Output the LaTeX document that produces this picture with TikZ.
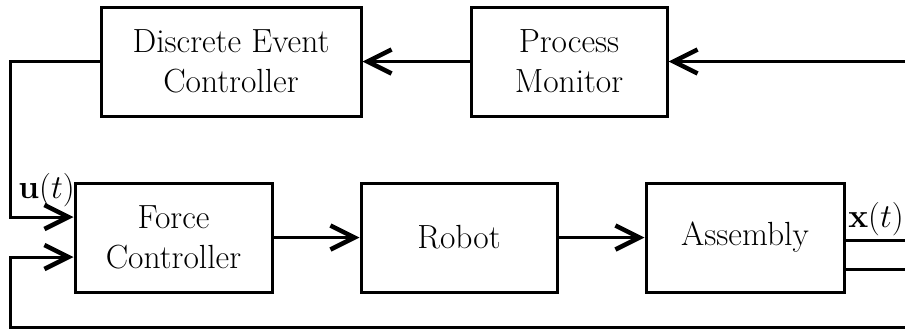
\documentclass[tikz,border=0pt]{standalone}
\usepackage{fix-cm}
\usetikzlibrary{arrows.meta}
\begin{document}
\begin{tikzpicture}[x=1pt,y=-1pt,
  box/.style={draw,line width=3pt,minimum height=109pt,align=center,inner sep=0pt},
  arr/.style={-{Straight Barb[length=24pt,width=24pt,line width=4.5pt]}},
  wire/.style={line width=3pt},
  every node/.append style={font=\fontsize{33.5}{40}\selectfont}]
\useasboundingbox (0,0) rectangle (905,330);
\node[box,minimum width=260pt] (dec) at (231,61.5) {Discrete Event\\Controller};
\node[box,minimum width=196pt] (pm) at (569,61.5) {Process\\Monitor};
\node[box,minimum width=197pt] (fc) at (173.5,237.5) {Force\\Controller};
\node[box,minimum width=196pt] (rob) at (459,237.5) {Robot};
\node[box,minimum width=198pt] (asm) at (745,237.5) {Assembly};
\coordinate (in) at (905,61.5);
\coordinate (ul) at (10,217);
\coordinate (x1) at (905,240);
\coordinate (x2) at (905,269);
\coordinate (b1) at (905,327);
\coordinate (b2) at (10,257);
\draw[wire,arr] (in) -- (pm.east);
\draw[wire,arr] (pm.west) -- (dec.east);
\draw[wire,arr] (dec.west) -| (ul) -- (ul -| fc.west);
\draw[wire,arr] (fc.east) -- (rob.west);
\draw[wire,arr] (rob.east) -- (asm.west);
\draw[wire] (asm.east |- x1) -- (x1);
\draw[wire] (asm.east |- x2) -- (x2);
\draw[wire,arr] (b1) -- (b1 -| b2) -- (b2) -- (b2 -| fc.west);
\node[inner sep=0pt,anchor=east] (ulab) at (75,190) {$\mathbf{u}(t)$};
\node[inner sep=0pt,anchor=east] (xlab) at (904,219) {$\mathbf{x}(t)$};
\end{tikzpicture}
\end{document}
